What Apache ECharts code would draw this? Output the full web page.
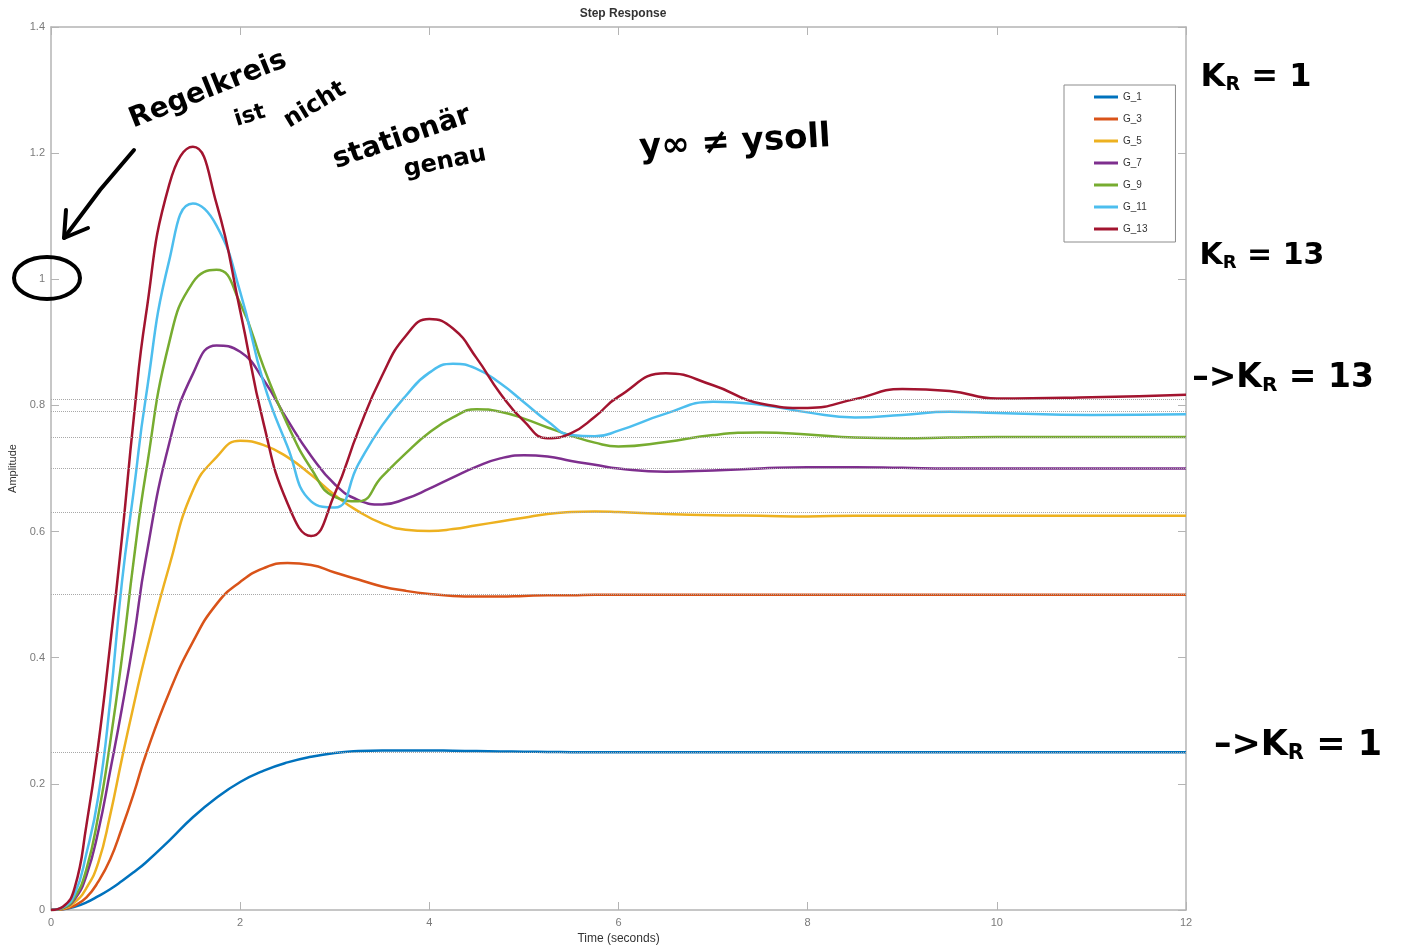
<!DOCTYPE html>
<html>
<head>
<meta charset="utf-8">
<title>Step Response</title>
<script src="https://cdn.jsdelivr.net/npm/echarts@6/dist/echarts.min.js"></script>
<style>
    html, body { margin: 0; padding: 0; background: #fff; }
    #step-chart { width: 1405px; height: 947px; }
</style>
</head>
<body>
<div id="step-chart"></div>
<script>
// time grid (seconds)
var timeVals = [0, 0.125, 0.25, 0.375, 0.5, 0.625, 0.75, 0.875, 1, 1.25, 1.5, 1.75, 2, 2.25, 2.5, 2.75, 3, 3.25, 3.5, 3.75,
    4, 4.25, 4.5, 4.75, 5, 5.25, 5.5, 5.75, 6, 6.5, 7, 7.5, 8, 8.5, 9, 9.5, 10, 11, 12];

// step responses
var g1 = [0, 0.001, 0.005, 0.012, 0.022, 0.033, 0.046, 0.06, 0.075, 0.11, 0.147, 0.178, 0.203, 0.221, 0.234, 0.243, 0.249, 0.252, 0.253, 0.253,
    0.253, 0.2525, 0.252, 0.2515, 0.251, 0.2505, 0.2502, 0.25, 0.25, 0.25, 0.25, 0.25, 0.25, 0.25, 0.25, 0.25, 0.25, 0.25, 0.25];
var g3 = [0, 0.001, 0.007, 0.02, 0.045, 0.08, 0.13, 0.185, 0.245, 0.345, 0.425, 0.485, 0.52, 0.542, 0.55, 0.547, 0.535, 0.524, 0.513, 0.506,
    0.501, 0.498, 0.497, 0.497, 0.498, 0.499, 0.499, 0.5, 0.5, 0.5, 0.5, 0.5, 0.5, 0.5, 0.5, 0.5, 0.5, 0.5, 0.5];
var g5 = [0, 0.002, 0.012, 0.035, 0.075, 0.15, 0.24, 0.325, 0.405, 0.545, 0.665, 0.718, 0.744, 0.737, 0.718, 0.69, 0.658, 0.632, 0.613, 0.603,
    0.601, 0.604, 0.61, 0.616, 0.622, 0.628, 0.631, 0.632, 0.631, 0.628, 0.626, 0.625, 0.624, 0.625, 0.625, 0.625, 0.625, 0.625, 0.625];
var g7 = [0, 0.003, 0.017, 0.055, 0.125, 0.22, 0.32, 0.43, 0.555, 0.74, 0.85, 0.895, 0.885, 0.84, 0.777, 0.72, 0.675, 0.65, 0.643, 0.652,
    0.668, 0.686, 0.703, 0.716, 0.721, 0.719, 0.712, 0.706, 0.7, 0.695, 0.697, 0.7, 0.702, 0.702, 0.701, 0.7, 0.7, 0.7, 0.7];
var g9 = [0, 0.003, 0.02, 0.065, 0.15, 0.265, 0.4, 0.555, 0.69, 0.9, 0.995, 1.015, 0.962, 0.86, 0.77, 0.7, 0.655, 0.648, 0.687, 0.724,
    0.757, 0.781, 0.794, 0.79, 0.779, 0.765, 0.752, 0.741, 0.735, 0.742, 0.753, 0.757, 0.754, 0.749, 0.748, 0.749, 0.75, 0.75, 0.75];
var g11 = [0, 0.004, 0.025, 0.09, 0.18, 0.33, 0.52, 0.665, 0.81, 1.03, 1.12, 1.085, 0.98, 0.835, 0.735, 0.648, 0.638, 0.707, 0.768, 0.815,
    0.852, 0.866, 0.858, 0.835, 0.805, 0.775, 0.753, 0.751, 0.76, 0.787, 0.806, 0.801, 0.789, 0.781, 0.785, 0.79, 0.788, 0.785, 0.786];
var g13 = [0, 0.005, 0.035, 0.135, 0.262, 0.42, 0.59, 0.78, 0.94, 1.15, 1.21, 1.12, 0.95, 0.77, 0.645, 0.593, 0.66, 0.76, 0.847, 0.91,
    0.937, 0.922, 0.875, 0.819, 0.775, 0.748, 0.756, 0.782, 0.814, 0.851, 0.832, 0.803, 0.796, 0.81, 0.826, 0.823, 0.811, 0.813, 0.817];

var seriesNames = ['G_1', 'G_3', 'G_5', 'G_7', 'G_9', 'G_11', 'G_13'];
var steadyVals = [0.25, 0.5, 0.625, 0.7, 0.75, 0.786, 0.8125];

function stepChart() {
    "use strict";
    var chart = echarts.init(document.getElementById('step-chart'));
    var allData = [g1, g3, g5, g7, g9, g11, g13];

    var series = allData.map(function (vals, i) {
        return {
            name: seriesNames[i],
            type: 'line',
            showSymbol: false,
            smooth: 0.5,
            z: 3,
            lineStyle: { width: 2.5 },
            data: vals.map(function (v, k) { return [timeVals[k], v]; })
        };
    });

    // dotted steady-state lines
    series.push({
        name: 'steady',
        type: 'line',
        data: [],
        z: 1,
        markLine: {
            silent: true,
            symbol: 'none',
            label: { show: false },
            lineStyle: { type: 'dotted', color: '#a8a8a8', width: 1 },
            data: steadyVals.map(function (v) { return { yAxis: v }; })
        }
    });

    var axisGray = '#b4b4b4';
    var labelStyle = { color: '#7a7a7a', fontSize: 11, fontFamily: 'Liberation Sans' };

    function handText(txt, x, y, size, rot) {
        return {
            type: 'text',
            x: x, y: y,
            rotation: rot || 0,
            z: 100,
            style: {
                text: txt,
                fill: '#000',
                font: 'bold ' + size + 'px "DejaVu Sans"',
                align: 'center',
                verticalAlign: 'middle',
                rich: {
                    s: { fontSize: Math.round(size * 0.6), fontWeight: 'bold', fontFamily: 'DejaVu Sans', padding: [Math.round(size * 0.45), 0, 0, 0] }
                }
            }
        };
    }

    var option = {
        animation: false,
        color: ['#0072BD', '#D95319', '#EDB120', '#7E2F8E', '#77AC30', '#4DBEEE', '#A2142F'],

        // Add title
        title: {
            text: 'Step Response',
            left: 618,
            top: 3,
            textAlign: 'center',
            textStyle: { fontSize: 12, fontWeight: 'bold', color: '#333', fontFamily: 'Liberation Sans' }
        },

        // Add legend
        legend: {
            data: seriesNames,
            orient: 'vertical',
            left: 1064,
            top: 85,
            icon: 'rect',
            itemWidth: 24,
            itemHeight: 3,
            itemGap: 12,
            padding: [7, 28, 8, 30],
            borderColor: '#8c8c8c',
            borderWidth: 1,
            backgroundColor: '#fff',
            textStyle: { fontSize: 10, color: '#333', fontFamily: 'Liberation Sans' }
        },

        grid: { left: 51, top: 27, width: 1135, height: 883, containLabel: false, outerBoundsMode: 'none' },

        xAxis: [{
            type: 'value',
            min: 0, max: 12, interval: 2,
            position: 'bottom',
            name: 'Time (seconds)',
            nameLocation: 'middle',
            nameGap: 23,
            nameTextStyle: { fontSize: 12, color: '#333', fontFamily: 'Liberation Sans' },
            axisLine: { show: true, onZero: false, lineStyle: { color: axisGray, width: 1.5 } },
            axisTick: { inside: true, length: 8, lineStyle: { color: axisGray } },
            axisLabel: Object.assign({ margin: 7 }, labelStyle),
            splitLine: { show: false }
        }, {
            type: 'value',
            min: 0, max: 12, interval: 2,
            position: 'top',
            axisLine: { show: true, onZero: false, lineStyle: { color: axisGray, width: 1.5 } },
            axisTick: { inside: true, length: 8, lineStyle: { color: axisGray } },
            axisLabel: { show: false },
            splitLine: { show: false }
        }],

        yAxis: [{
            type: 'value',
            min: 0, max: 1.4, interval: 0.2,
            position: 'left',
            name: 'Amplitude',
            nameLocation: 'middle',
            nameGap: 25,
            nameTextStyle: { fontSize: 11, color: '#333', fontFamily: 'Liberation Sans' },
            axisLine: { show: true, onZero: false, lineStyle: { color: axisGray, width: 1.5 } },
            axisTick: { show: true, inside: true, length: 8, lineStyle: { color: axisGray } },
            axisLabel: Object.assign({ margin: 6 }, labelStyle),
            splitLine: { show: false }
        }, {
            type: 'value',
            min: 0, max: 1.4, interval: 0.2,
            position: 'right',
            axisLine: { show: true, onZero: false, lineStyle: { color: axisGray, width: 1.5 } },
            axisTick: { show: true, inside: true, length: 8, lineStyle: { color: axisGray } },
            axisLabel: { show: false },
            splitLine: { show: false }
        }],

        // handwritten notes
        graphic: [
            handText('Regelkreis', 208, 90, 28, 0.38),
            handText('ist', 250, 116, 22, 0.3),
            handText('nicht', 315, 105, 24, 0.55),
            handText('stationär', 402, 138, 28, 0.33),
            handText('genau', 445, 162, 24, 0.2),
            handText('y\u221E \u2260 ysoll', 735, 143, 34, 0.06),
            handText('{a|K}{s|R}{a| = 1}', 1256, 78, 32, 0),
            handText('{a|K}{s|R}{a| = 13}', 1262, 256, 30, 0),
            handText('{a|\u2013>K}{s|R}{a| = 13}', 1283, 378, 33, 0),
            handText('{a|\u2013>K}{s|R}{a| = 1}', 1298, 746, 35, 0),
            {
                type: 'ellipse', z: 100,
                shape: { cx: 47, cy: 278, rx: 33, ry: 21 },
                style: { fill: 'none', stroke: '#000', lineWidth: 4 }
            },
            {
                type: 'polyline', z: 100,
                shape: { points: [[134, 150], [100, 190], [64, 238]] },
                style: { fill: 'none', stroke: '#000', lineWidth: 4, lineCap: 'round' }
            },
            {
                type: 'polyline', z: 100,
                shape: { points: [[66, 210], [64, 238], [88, 228]] },
                style: { fill: 'none', stroke: '#000', lineWidth: 4, lineCap: 'round', lineJoin: 'round' }
            }
        ],

        series: series
    };

    chart.setOption(option);
}

stepChart();
</script>
</body>
</html>
